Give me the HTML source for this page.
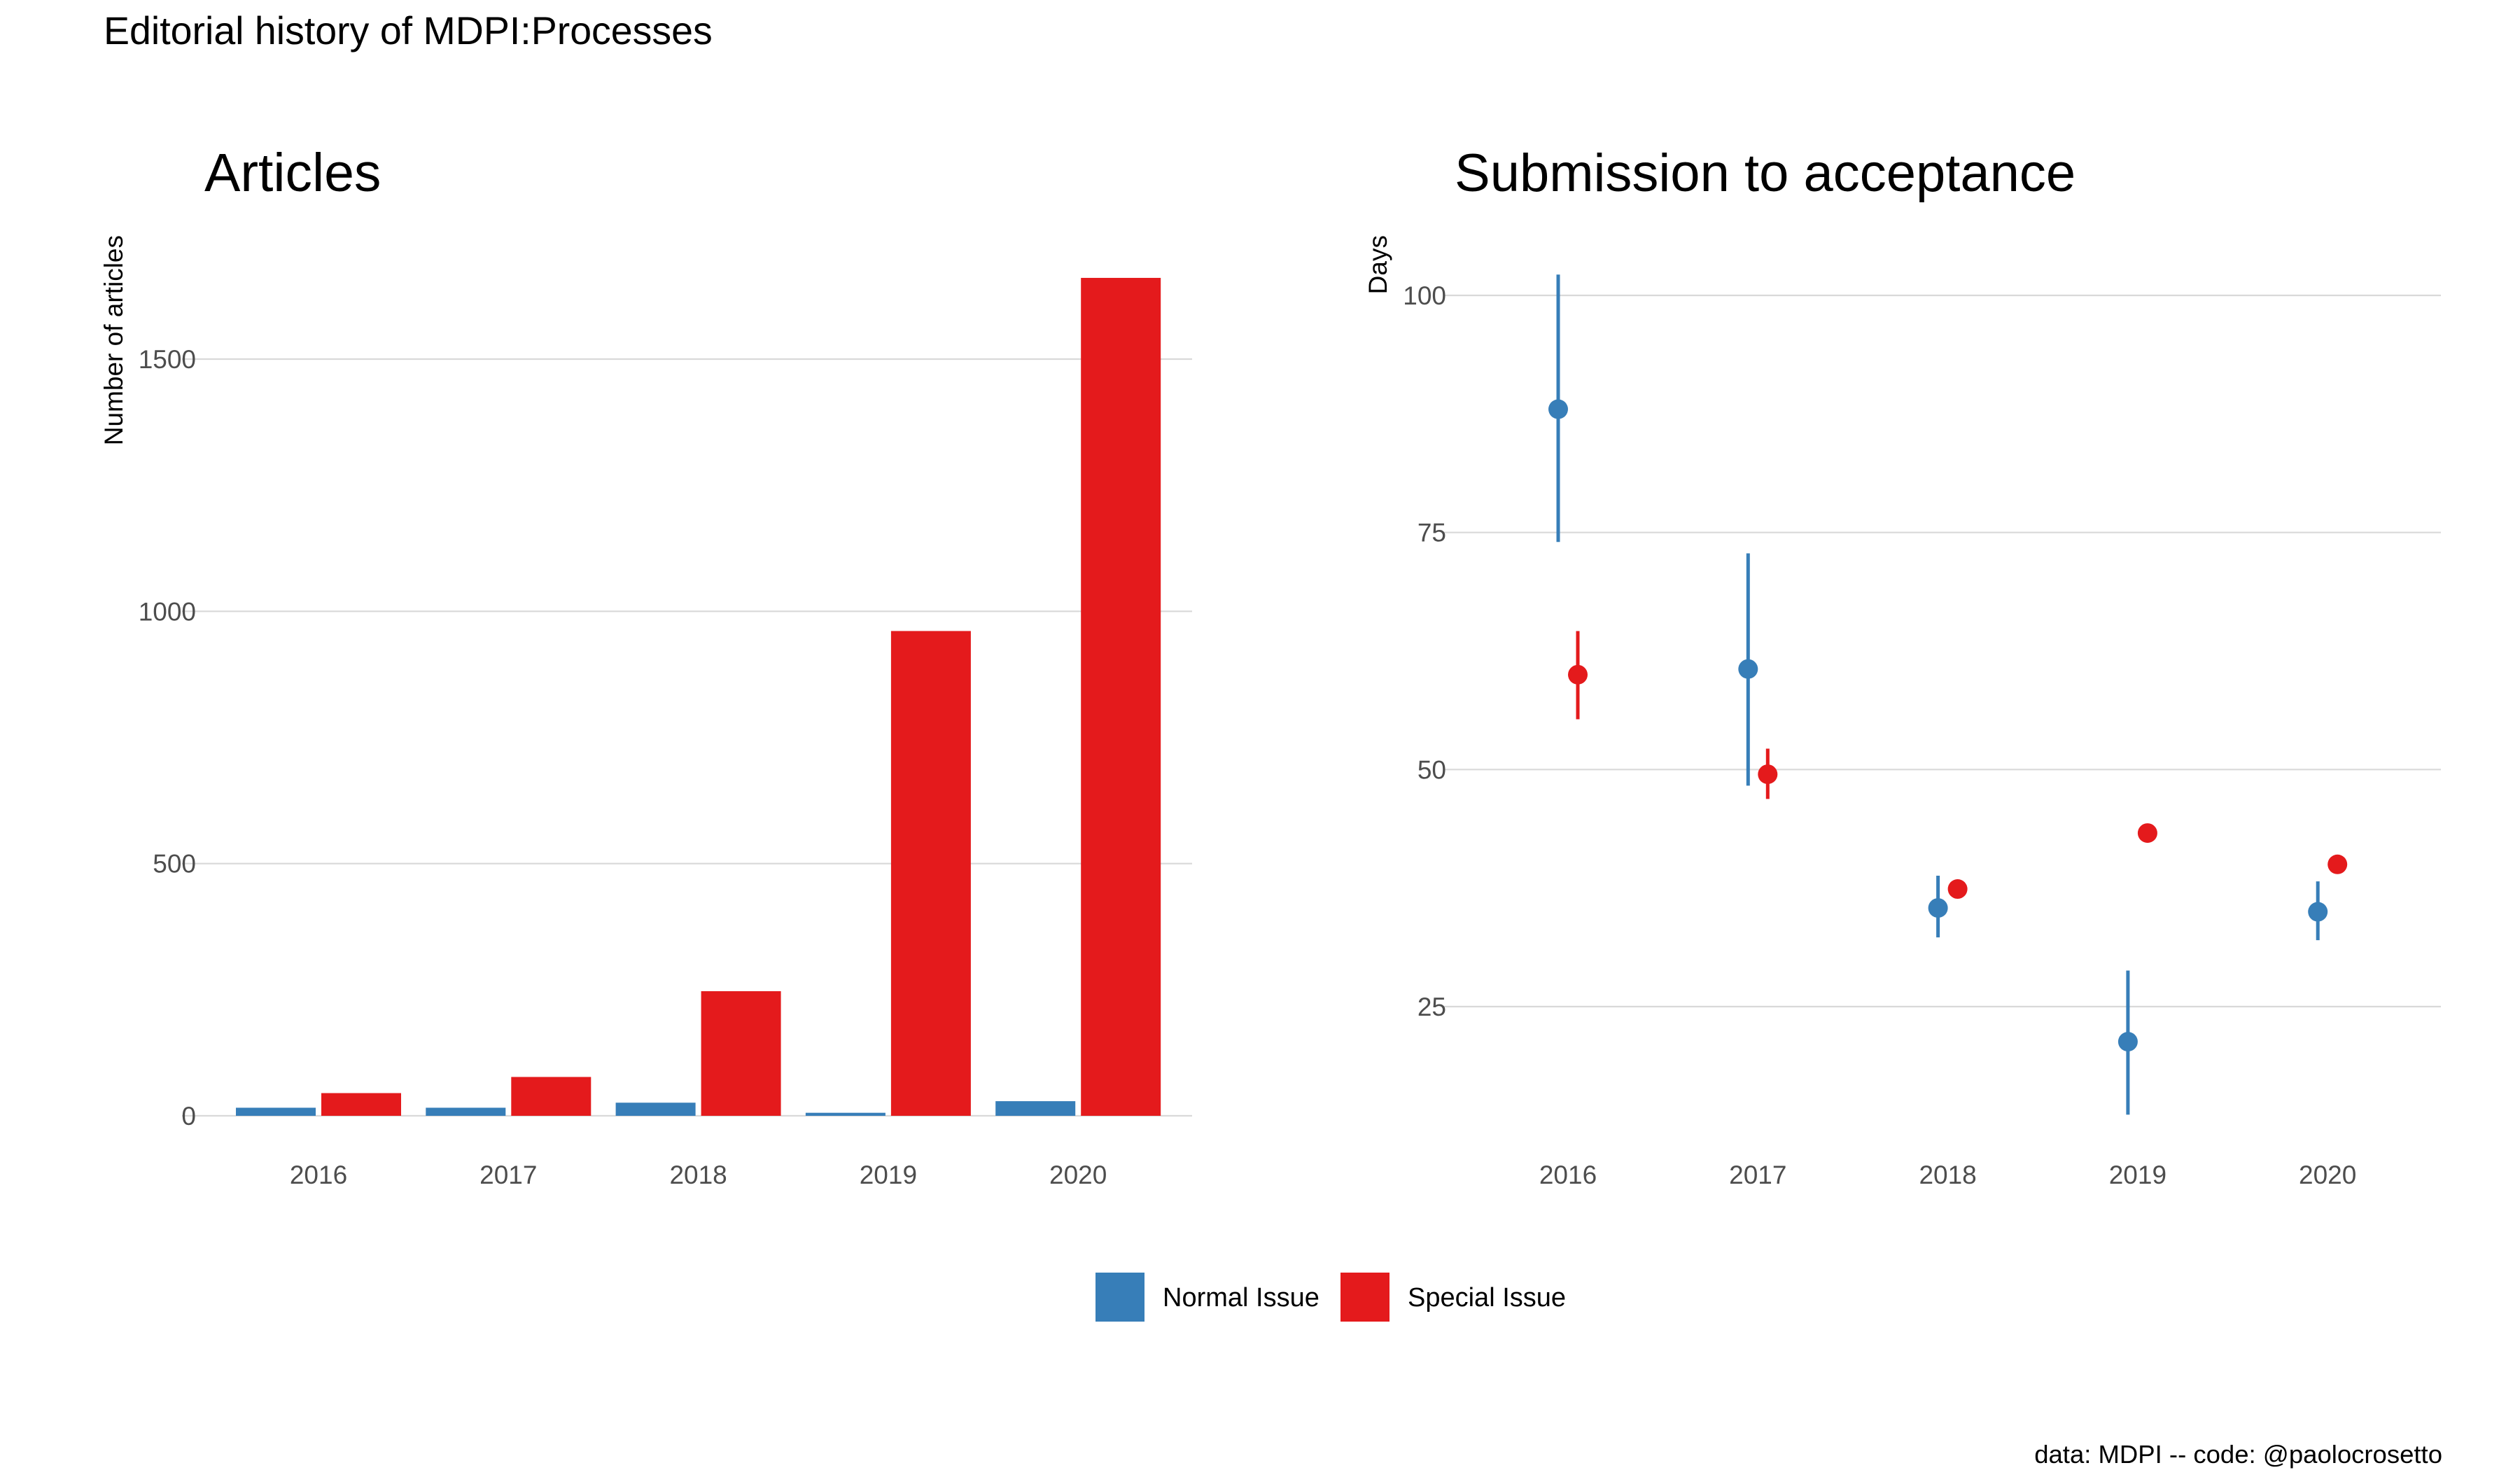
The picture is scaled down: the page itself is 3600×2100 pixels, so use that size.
<!DOCTYPE html>
<html><head><meta charset="utf-8"><style>
html,body{margin:0;padding:0;background:#fff;}
svg{display:block;font-family:"Liberation Sans",sans-serif;}
</style></head><body>
<svg id="chart" width="3600" height="2100" viewBox="0 0 3600 2100" xmlns="http://www.w3.org/2000/svg">
<text x="148" y="63" font-size="55.5" fill="#000">Editorial history of MDPI:Processes</text>
<text x="292" y="273" font-size="77" fill="#000">Articles</text>
<text x="2078" y="273" font-size="76" fill="#000">Submission to acceptance</text>
<text transform="translate(175,336) rotate(-90)" text-anchor="end" font-size="37" fill="#000">Number of articles</text>
<text transform="translate(1981,336) rotate(-90)" text-anchor="end" font-size="37" fill="#000">Days</text>
<g id="left"></g>
<g id="right"></g>
<rect x="1565" y="1818" width="70" height="70" fill="#377eb8"/>
<text x="1661" y="1866" font-size="38" fill="#000">Normal Issue</text>
<rect x="1915" y="1818" width="70" height="70" fill="#e41a1c"/>
<text x="2011" y="1866" font-size="38" fill="#000">Special Issue</text>
<text x="3489" y="2090" text-anchor="end" font-size="36.5" fill="#000">data: MDPI -- code: @paolocrosetto</text>
</svg>
<script>
const years = ["2016","2017","2018","2019","2020"];
const articlesNormal = [16, 16, 26, 6, 29];
const articlesSpecial = [45, 77, 247, 961, 1661];
const articleTicks = [0, 500, 1000, 1500];
const daysNormal = [88, 60.6, 35.4, 21.3, 35];
const daysNormalLo = [74, 48.3, 32.3, 13.6, 32];
const daysNormalHi = [102.2, 72.8, 38.8, 28.8, 38.2];
const daysSpecial = [60, 49.5, 37.4, 43.3, 40];
const daysSpecialLo = [55.3, 46.9, 36.8, 43.3, 40];
const daysSpecialHi = [64.6, 52.2, 38.0, 43.3, 40];
const dayTicks = [25, 50, 75, 100];

const NS = "http://www.w3.org/2000/svg";
function mk(tag, attrs, parent){const e=document.createElementNS(NS,tag);for(const k in attrs)e.setAttribute(k,attrs[k]);parent.appendChild(e);return e;}
const BLUE="#377eb8", RED="#e41a1c";

const L = document.getElementById('left');
const lx0=260, lx1=1703;
const lxc = i => 455 + i*271.3;
const ly = v => 1594 - v*(1594-513)/1500;
articleTicks.forEach(t=>{
  const g=mk('line',{x1:lx0,x2:lx1,y1:ly(t),y2:ly(t),stroke:"#d9d9d9","stroke-width":2.2},L);
  
  
  const tx=mk('text',{x:280,y:ly(t)+13,"text-anchor":"end","font-size":37,fill:"#4d4d4d"},L);
  tx.textContent=t;
  
  
});
const bw=114;
years.forEach((y,i)=>{
  const c=lxc(i);
  const b1=mk('rect',{x:c-bw-4,y:ly(articlesNormal[i]),width:bw,height:ly(0)-ly(articlesNormal[i]),fill:BLUE},L);
  
  
  const b2=mk('rect',{x:c+4,y:ly(articlesSpecial[i]),width:bw,height:ly(0)-ly(articlesSpecial[i]),fill:RED},L);
  
  
  const tx=mk('text',{x:c,y:1691,"text-anchor":"middle","font-size":37,fill:"#4d4d4d"},L);
  tx.textContent=y;
  
  
});

const R = document.getElementById('right');
const rx0=2062, rx1=3487;
const rxc = i => 2240 + i*271.3;
const ry = v => 422 + (100-v)*(1438-422)/75;
dayTicks.forEach(t=>{
  const g=mk('line',{x1:rx0,x2:rx1,y1:ry(t),y2:ry(t),stroke:"#d9d9d9","stroke-width":2.2},R);
  
  
  const tx=mk('text',{x:2066,y:ry(t)+13,"text-anchor":"end","font-size":37,fill:"#4d4d4d"},R);
  tx.textContent=t;
  
  
});
const off=14;
years.forEach((y,i)=>{
  const c=rxc(i);
  const l1=mk('line',{x1:c-off,x2:c-off,y1:ry(daysNormalHi[i]),y2:ry(daysNormalLo[i]),stroke:BLUE,"stroke-width":5},R);
  
  
  const p1=mk('circle',{cx:c-off,cy:ry(daysNormal[i]),r:14,fill:BLUE},R);
  
  
  const l2=mk('line',{x1:c+off,x2:c+off,y1:ry(daysSpecialHi[i]),y2:ry(daysSpecialLo[i]),stroke:RED,"stroke-width":5},R);
  
  
  const p2=mk('circle',{cx:c+off,cy:ry(daysSpecial[i]),r:14,fill:RED},R);
  
  
  const tx=mk('text',{x:c,y:1691,"text-anchor":"middle","font-size":37,fill:"#4d4d4d"},R);
  tx.textContent=y;
  
  
});
</script>
</body></html>
